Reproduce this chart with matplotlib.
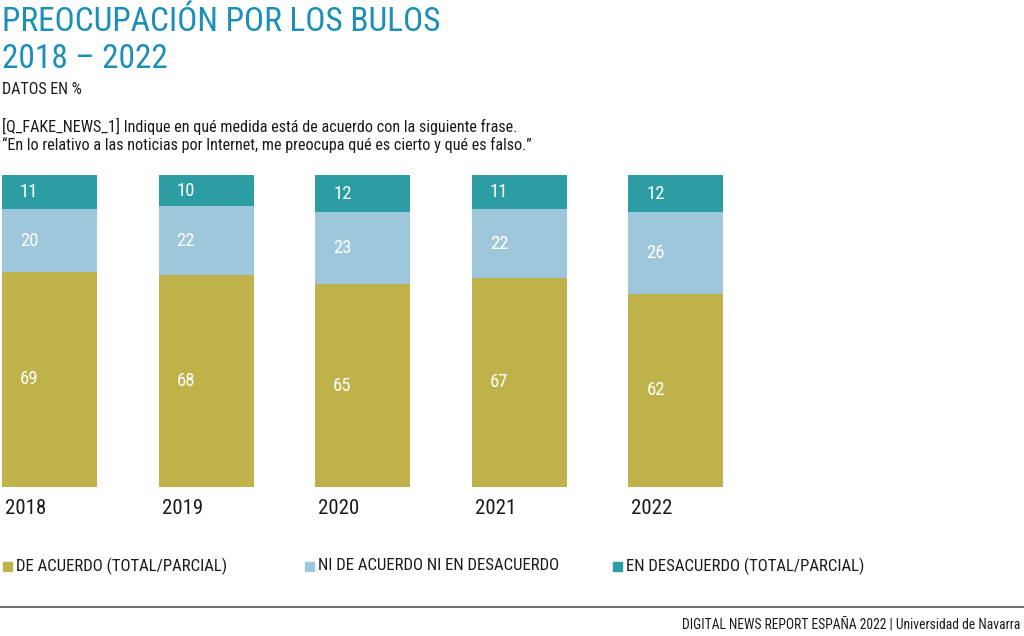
import matplotlib
matplotlib.use("Agg")
import matplotlib.pyplot as plt
from matplotlib.lines import Line2D
from matplotlib.patches import Rectangle

# ── Data ─────────────────────────────────────────────────────────────────────
YEARS = ["2018", "2019", "2020", "2021", "2022"]
DE_ACUERDO = [69, 68, 65, 67, 62]
NI_NI = [20, 22, 23, 22, 26]
DESACUERDO = [11, 10, 12, 11, 12]
SERIES = ["DE ACUERDO (TOTAL/PARCIAL)", "NI DE ACUERDO NI EN DESACUERDO",
          "EN DESACUERDO (TOTAL/PARCIAL)"]

OLIVE = "#bfb24b"
LIGHT = "#9ec7dc"
TEAL = "#2b9da3"
TITLE_BLUE = "#1b8fb8"
TEXT = "#1a1a1a"

plt.rcParams["font.family"] = ["Liberation Sans Narrow", "Roboto Condensed", "DejaVu Sans"]

W, H = 1024, 636
fig = plt.figure(figsize=(W / 100, H / 100), dpi=100)

# axes: 1 unit = 156.6 px, bars 95 px wide
unit = 156.6
bw = 95 / unit
x0 = -bw / 2
ax = fig.add_axes([2 / W, (H - 487) / H, 4.61 * unit / W, 312 / H])
ax.set_xlim(x0, x0 + 4.61)
ax.set_ylim(0, 100)
ax.axis("off")

xs = list(range(len(YEARS)))
bottoms2 = DE_ACUERDO
bottoms3 = [a + b for a, b in zip(DE_ACUERDO, NI_NI)]
ax.bar(xs, DE_ACUERDO, width=bw, color=OLIVE, linewidth=0)
ax.bar(xs, NI_NI, width=bw, bottom=bottoms2, color=LIGHT, linewidth=0)
ax.bar(xs, DESACUERDO, width=bw, bottom=bottoms3, color=TEAL, linewidth=0)

for i in xs:
    lx = i - bw / 2 + 18 / unit
    for val, bot in ((DE_ACUERDO[i], 0), (NI_NI[i], bottoms2[i]), (DESACUERDO[i], bottoms3[i])):
        ax.text(lx, bot + val / 2, str(val), color="white", fontsize=13.5,
                ha="left", va="center")
    ax.text(i - bw / 2 + 3 / unit, -6.8, YEARS[i], color=TEXT, fontsize=15,
            ha="left", va="center", clip_on=False)

# ── Titles ───────────────────────────────────────────────────────────────────
fig.text(2 / W, 1 - 22 / H, "PREOCUPACIÓN POR LOS BULOS", color=TITLE_BLUE,
         fontsize=24, ha="left", va="center")
fig.text(2 / W, 1 - 59 / H, "2018 – 2022", color=TITLE_BLUE,
         fontsize=24, ha="left", va="center")
fig.text(2 / W, 1 - 89 / H, "DATOS EN %", color=TEXT, fontsize=11.5,
         ha="left", va="center")
fig.text(2 / W, 1 - 126 / H,
         "[Q_FAKE_NEWS_1] Indique en qué medida está de acuerdo con la siguiente frase.",
         color=TEXT, fontsize=11.6, ha="left", va="center")
fig.text(2 / W, 1 - 145 / H,
         "“En lo relativo a las noticias por Internet, me preocupa qué es cierto y qué es falso.”",
         color=TEXT, fontsize=11.6, ha="left", va="center")

# ── Legend ───────────────────────────────────────────────────────────────────
leg_x = [3, 305, 613]
for lx, lab, col in zip(leg_x, SERIES, [OLIVE, LIGHT, TEAL]):
    fig.patches.append(Rectangle((lx / W, 1 - 571 / H), 9 / W, 9 / H,
                                 transform=fig.transFigure, color=col))
    fig.text((lx + 13) / W, 1 - 566 / H, lab, color=TEXT, fontsize=12.1,
             ha="left", va="center")

# ── Footer ───────────────────────────────────────────────────────────────────
fig.lines.append(Line2D([0, 1], [1 - 607 / H] * 2, transform=fig.transFigure,
                        color="#555555", linewidth=1.2))
fig.text(1020 / W, 1 - 624 / H,
         "DIGITAL NEWS REPORT ESPAÑA 2022 | Universidad de Navarra",
         color=TEXT, fontsize=9.8, ha="right", va="center")

fig.savefig("out.png", dpi=100)
